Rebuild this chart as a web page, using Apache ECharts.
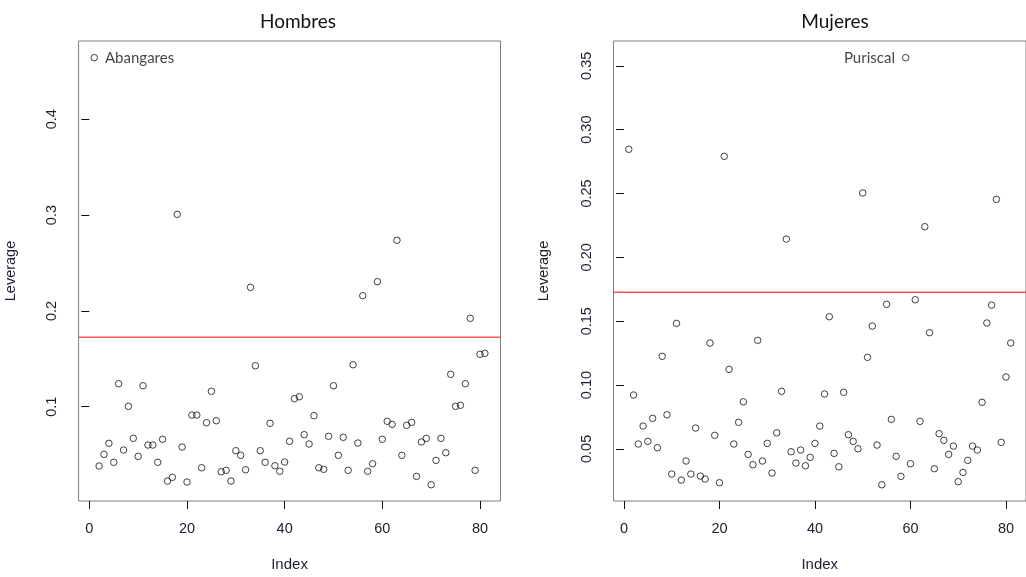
<!DOCTYPE html>
<html>
<head>
<meta charset="utf-8">
<script src="https://cdn.jsdelivr.net/npm/echarts@6/dist/echarts.min.js"></script>
<style>
html,body{margin:0;padding:0;background:#fff;}
#chart{width:1026px;height:577px;}
</style>
</head>
<body>
<div id="chart"></div>
<script>
// ---- Data ----
const leverageHombres = [
  0.4643, 0.0381, 0.0503, 0.0618, 0.0420, 0.1240, 0.0548, 0.1004, 0.0670, 0.0482,
  0.1219, 0.0600, 0.0600, 0.0420, 0.0660, 0.0224, 0.0263, 0.3008, 0.0579, 0.0214,
  0.0913, 0.0913, 0.0363, 0.0833, 0.1161, 0.0854, 0.0321, 0.0336, 0.0224, 0.0541,
  0.0493, 0.0342, 0.2246, 0.1428, 0.0541, 0.0420, 0.0827, 0.0384, 0.0326, 0.0423,
  0.0639, 0.1084, 0.1104, 0.0708, 0.0611, 0.0906, 0.0363, 0.0347, 0.0691, 0.1219,
  0.0493, 0.0681, 0.0336, 0.1438, 0.0621, 0.2159, 0.0326, 0.0405, 0.2305, 0.0660,
  0.0848, 0.0816, 0.2737, 0.0493, 0.0806, 0.0837, 0.0273, 0.0632, 0.0670, 0.0186,
  0.0440, 0.0670, 0.0520, 0.1338, 0.1004, 0.1015, 0.1240, 0.1923, 0.0336, 0.1547,
  0.1557
];
const leverageMujeres = [
  0.2846, 0.0922, 0.0538, 0.0679, 0.0559, 0.0739, 0.0509, 0.1225, 0.0767, 0.0303,
  0.1483, 0.0256, 0.0405, 0.0303, 0.0663, 0.0287, 0.0264, 0.1329, 0.0606, 0.0235,
  0.2791, 0.1123, 0.0538, 0.0708, 0.0869, 0.0457, 0.0376, 0.1350, 0.0405, 0.0543,
  0.0311, 0.0626, 0.0951, 0.2143, 0.0478, 0.0389, 0.0491, 0.0368, 0.0434, 0.0543,
  0.0679, 0.0930, 0.1535, 0.0465, 0.0360, 0.0943, 0.0611, 0.0559, 0.0501, 0.2504,
  0.1217, 0.1462, 0.0530, 0.0219, 0.1632, 0.0731, 0.0442, 0.0285, 0.3563, 0.0384,
  0.1668, 0.0716, 0.2240, 0.1410, 0.0345, 0.0619, 0.0567, 0.0457, 0.0522, 0.0243,
  0.0316, 0.0410, 0.0522, 0.0491, 0.0865, 0.1486, 0.1626, 0.2454, 0.0551, 0.1063,
  0.1329
];
const panelTitles = ['Hombres', 'Mujeres'];
const cutoffLeverage = [0.1726, 0.1727];
const labelHombres = [1, 'Abangares'];   // [index, name]
const labelMujeres = [59, 'Puriscal'];
const xTicks = [0, 20, 40, 60, 80];
const yTicksHombres = [0.1, 0.2, 0.3, 0.4];
const yTicksMujeres = [0.05, 0.10, 0.15, 0.20, 0.25, 0.30, 0.35];

// ---- Chart ----
const X_MIN = -2.2, X_MAX = 84.2;
const chart = echarts.init(document.getElementById('chart'), null, {renderer: 'canvas'});
const txt = '#1e1e30';
const labFont = 'Liberation Sans, Arial, sans-serif';
const titleFont = 'Lato, "Open Sans", sans-serif';

function buildData(vals, lab, pos) {
  return vals.map((v, i) => {
    const item = {value: [i + 1, v]};
    if (i + 1 === lab[0]) {
      item.label = {
        show: true, formatter: lab[1], position: pos, distance: 7,
        color: '#111', fontFamily: titleFont, fontSize: 15
      };
    }
    return item;
  });
}

function xAxis(gi) {
  return {
    gridIndex: gi, type: 'value', min: X_MIN, max: X_MAX,
    name: 'Index', nameLocation: 'middle', nameGap: 56,
    nameTextStyle: {color: txt, fontFamily: labFont, fontSize: 15},
    axisLine: {show: false},
    axisTick: {show: true, inside: false, length: 8, customValues: xTicks,
      lineStyle: {color: '#111', width: 1}},
    axisLabel: {show: true, customValues: xTicks, margin: 20, color: txt,
      fontFamily: labFont, fontSize: 14.5},
    splitLine: {show: false}
  };
}
function yAxis(gi, min, max, ticks, dec, gap) {
  return {
    gridIndex: gi, type: 'value', min: min, max: max,
    name: 'Leverage', nameLocation: 'middle', nameGap: gap, nameRotate: 90,
    nameTextStyle: {color: txt, fontFamily: labFont, fontSize: 14.5},
    axisLine: {show: false},
    axisTick: {show: true, inside: false, length: 8, customValues: ticks,
      lineStyle: {color: '#111', width: 1}},
    axisLabel: {show: true, customValues: ticks, rotate: 90, margin: 19, color: txt,
      fontFamily: labFont, fontSize: 14.5,
      formatter: v => Number(v).toFixed(dec)},
    splitLine: {show: false}
  };
}
function scatter(gi, vals, lab, pos) {
  return {
    type: 'scatter', xAxisIndex: gi, yAxisIndex: gi, z: 3,
    symbol: 'circle', symbolSize: 6.5,
    itemStyle: {color: 'rgba(0,0,0,0)', borderColor: '#111', borderWidth: 1},
    emphasis: {disabled: true},
    data: buildData(vals, lab, pos)
  };
}
function cutLine(gi, cut) {
  return {
    type: 'line', xAxisIndex: gi, yAxisIndex: gi, z: 2,
    symbol: 'none', silent: true,
    itemStyle: {color: '#ff0000'},
    lineStyle: {color: '#ff0000', width: 1, type: 'solid'},
    emphasis: {disabled: true},
    data: [[X_MIN, cut], [X_MAX, cut]]
  };
}

const option = {
  animation: false,
  backgroundColor: '#ffffff',
  title: [
    {text: panelTitles[0], left: 293, top: 7, textAlign: 'center',
      textStyle: {color: '#111', fontFamily: titleFont, fontSize: 19, fontWeight: 'normal'}},
    {text: panelTitles[1], left: 830, top: 7, textAlign: 'center',
      textStyle: {color: '#111', fontFamily: titleFont, fontSize: 19, fontWeight: 'normal'}}
  ],
  grid: [
    {left: 78.6, top: 41, width: 421.9, height: 460.5, show: true,
      borderColor: '#7f7f7f', borderWidth: 1, backgroundColor: 'transparent'},
    {left: 613.5, top: 41, width: 421.9, height: 460.5, show: true,
      borderColor: '#7f7f7f', borderWidth: 1, backgroundColor: 'transparent'}
  ],
  xAxis: [xAxis(0), xAxis(1)],
  yAxis: [
    yAxis(0, 0.0016, 0.4817, yTicksHombres, 1, 60),
    yAxis(1, 0.0092, 0.3694, yTicksMujeres, 2, 62)
  ],
  series: [
    cutLine(0, cutoffLeverage[0]),
    cutLine(1, cutoffLeverage[1]),
    scatter(0, leverageHombres, labelHombres, 'right'),
    scatter(1, leverageMujeres, labelMujeres, 'left')
  ]
};
chart.setOption(option);
</script>
</body>
</html>
